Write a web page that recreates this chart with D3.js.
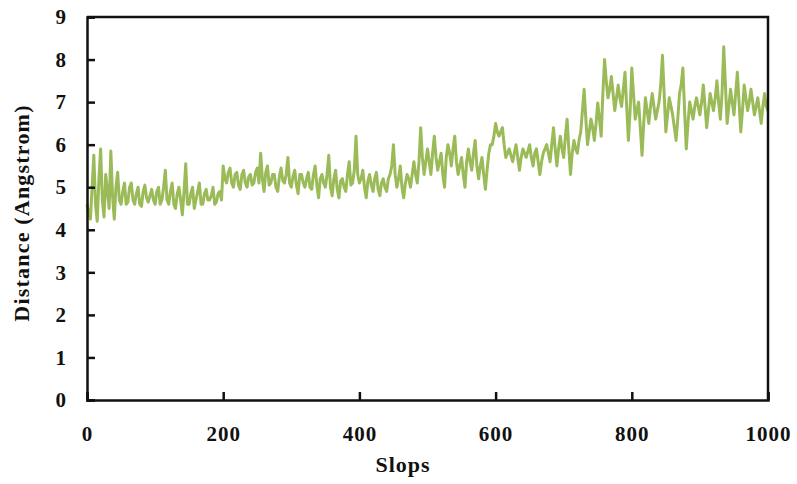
<!DOCTYPE html>
<html>
<head>
<meta charset="utf-8">
<script src="https://cdn.jsdelivr.net/npm/d3@7"></script>
<style>
  body { margin: 0; background: #fff; }
  text { font-family: "Liberation Serif", "Times New Roman", serif; font-weight: bold; fill: #111; }
</style>
</head>
<body>
<div id="chart"></div>
<script>
// slope index, values read every 2.5 steps (two interleaved arrays)
const step = 5;
// distance at slopes 0, 5, 10, ... 1000 (Angstrom)
const distance = [
  4.6, 4.25, 5.75, 4.2, 5.9, 4.3, 4.9, 5.85, 4.25, 5.35, 4.6, 5.1, 4.65, 5.1, 4.6, 5.0, 4.55, 5.05, 4.65, 4.95,
  4.6, 5.0, 4.7, 5.4, 4.6, 5.1, 4.5, 5.0, 4.35, 5.55, 4.6, 5.0, 4.7, 5.1, 4.6, 4.95, 4.7, 5.0, 4.65, 4.9,
  5.5, 5.1, 5.45, 5.0, 5.35, 4.95, 5.4, 5.0, 5.3, 5.1, 5.45, 5.8, 4.9, 5.5, 5.1, 5.3, 4.9, 5.45, 5.1, 5.7,
  5.0, 5.4, 4.85, 5.3, 5.0, 5.35, 4.95, 5.5, 4.75, 5.3, 5.0, 5.75, 4.8, 5.4, 4.75, 5.2, 4.9, 5.6, 5.1, 6.2,
  5.1, 5.4, 4.75, 5.3, 4.9, 5.35, 4.8, 5.2, 4.9, 5.3, 6.0, 5.0, 5.5, 4.75, 5.3, 5.0, 5.6, 5.1, 6.4, 5.3,
  5.9, 5.3, 6.2, 5.4, 5.8, 5.0, 6.0, 5.5, 6.2, 5.3, 5.7, 5.0, 5.9, 5.4, 6.1, 5.2, 5.7, 4.95, 5.8, 6.0,
  6.5, 6.2, 6.4, 5.7, 5.9, 5.6, 6.0, 5.4, 5.9, 5.7, 6.0, 5.5, 5.9, 5.3, 5.8, 6.0, 5.6, 6.4, 5.5, 6.2,
  5.7, 6.6, 5.3, 6.1, 5.8, 6.3, 7.3, 6.0, 6.6, 6.1, 6.98, 6.2, 8.0, 7.1, 7.6, 6.8, 7.4, 6.9, 7.7, 6.1,
  7.8, 6.6, 7.0, 5.75, 7.1, 6.5, 7.2, 6.6, 7.0, 8.1, 6.3, 7.1, 6.7, 6.1, 7.2, 7.8, 5.9, 7.0, 6.6, 7.1,
  6.7, 7.4, 6.4, 7.2, 6.8, 7.5, 6.6, 8.3, 6.5, 7.3, 6.7, 7.7, 6.3, 7.4, 6.8, 7.3, 6.7, 7.1, 6.5, 7.2,
  6.8
];
// distance at slopes 2.5, 7.5, ... 997.5 (Angstrom)
const distanceMid = [
  4.4, 5.0, 4.6, 5.2, 4.7, 5.3, 4.5, 4.8, 5.0, 4.7, 4.9, 4.6, 5.0, 4.7, 4.85, 4.6, 4.9, 4.75, 4.8, 4.7,
  4.9, 4.6, 5.0, 4.7, 4.9, 4.6, 4.85, 4.7, 4.9, 4.6, 4.85, 4.5, 4.9, 4.6, 4.85, 4.7, 4.8, 4.6, 4.85, 4.7,
  5.2, 5.35, 5.1, 5.3, 5.05, 5.3, 5.1, 5.25, 5.05, 5.35, 5.1, 5.2, 5.35, 5.05, 5.3, 5.0, 5.25, 5.15, 5.3, 5.1,
  5.25, 5.05, 5.3, 5.1, 5.2, 5.0, 5.3, 5.05, 5.2, 5.1, 5.3, 5.0, 5.2, 4.95, 5.15, 5.0, 5.3, 5.05, 5.4, 5.3,
  5.2, 5.0, 5.15, 5.05, 5.2, 4.95, 5.1, 5.0, 5.2, 5.5, 5.3, 5.2, 5.0, 5.1, 5.2, 5.3, 5.3, 5.6, 5.7, 5.6,
  5.6, 5.8, 5.7, 5.6, 5.3, 5.7, 5.8, 5.9, 5.6, 5.5, 5.3, 5.6, 5.6, 5.8, 5.5, 5.5, 5.3, 5.4, 6.0, 6.2,
  6.3, 6.3, 6.0, 5.8, 5.75, 5.8, 5.7, 5.7, 5.8, 5.85, 5.7, 5.8, 5.6, 5.6, 5.9, 5.8, 6.0, 5.9, 5.9, 5.9,
  6.2, 5.9, 5.8, 5.9, 6.1, 6.8, 6.6, 6.3, 6.4, 6.5, 6.6, 7.2, 7.5, 7.3, 7.2, 7.1, 7.1, 7.3, 6.9, 6.8,
  7.2, 6.8, 6.4, 6.5, 6.8, 6.9, 6.9, 6.8, 7.4, 7.2, 6.7, 6.9, 6.4, 6.6, 7.4, 6.8, 6.5, 6.8, 6.9, 6.9,
  7.0, 6.9, 6.8, 7.0, 7.1, 7.0, 7.2, 7.4, 6.9, 7.0, 7.2, 7.0, 6.8, 7.1, 7.0, 7.0, 6.9, 6.8, 6.9, 6.9
];
const xTicks = [0, 200, 400, 600, 800, 1000];
const yTicks = [0, 1, 2, 3, 4, 5, 6, 7, 8, 9];

const data = [];
distance.forEach((d, i) => {
  data.push({ slope: i * step, value: d });
  if (i < distanceMid.length) data.push({ slope: i * step + step / 2, value: distanceMid[i] });
});

const width = 797, height = 484;
const margin = {top: 17, right: 29, bottom: 84, left: 87};
const w = width - margin.left - margin.right,
      h = height - margin.top - margin.bottom;

const svg = d3.select('#chart').append('svg')
    .attr('width', width)
    .attr('height', height);

const g = svg.append('g')
    .attr('transform', `translate(${margin.left},${margin.top})`);

const x = d3.scaleLinear().domain([0, 1000]).range([0, w]);
const y = d3.scaleLinear().domain([0, 9]).range([h, 0]);

const line = d3.line()
    .x(d => x(d.slope))
    .y(d => y(d.value));

g.append('path')
    .datum(data)
    .attr('fill', 'none')
    .attr('stroke', '#9bbb59')
    .attr('stroke-width', 3)
    .attr('stroke-linejoin', 'round')
    .attr('d', line);

// frame on top and right
g.append('path')
    .attr('d', `M0,0H${w}V${h}`)
    .attr('fill', 'none')
    .attr('stroke', '#111')
    .attr('stroke-width', 2.5);

const xAxis = g.append('g')
    .attr('transform', `translate(0,${h})`)
    .call(d3.axisBottom(x).tickValues(xTicks).tickFormat(d3.format('d')).tickSize(-8).tickPadding(26));

const yAxis = g.append('g')
    .call(d3.axisLeft(y).tickValues(yTicks).tickSize(-8).tickPadding(20));

[xAxis, yAxis].forEach(a => {
  a.select('.domain').attr('stroke', '#111').attr('stroke-width', 2.5);
  a.selectAll('.tick line').attr('stroke', '#111').attr('stroke-width', 2.5);
  a.selectAll('.tick text')
      .style('font-family', '"Liberation Serif", serif')
      .style('font-weight', 'bold')
      .style('font-size', '21px')
      .style('letter-spacing', '1px')
      .attr('fill', '#111');
});

svg.append('text')
    .attr('x', 403)
    .attr('y', 472)
    .attr('text-anchor', 'middle')
    .style('font-size', '22px')
    .style('letter-spacing', '1px')
    .text('Slops');

svg.append('text')
    .attr('transform', `translate(29,${margin.top + 196}) rotate(-90)`)
    .attr('text-anchor', 'middle')
    .style('font-size', '22px')
    .style('letter-spacing', '1.2px')
    .text('Distance (Angstrom)');
</script>
</body>
</html>
